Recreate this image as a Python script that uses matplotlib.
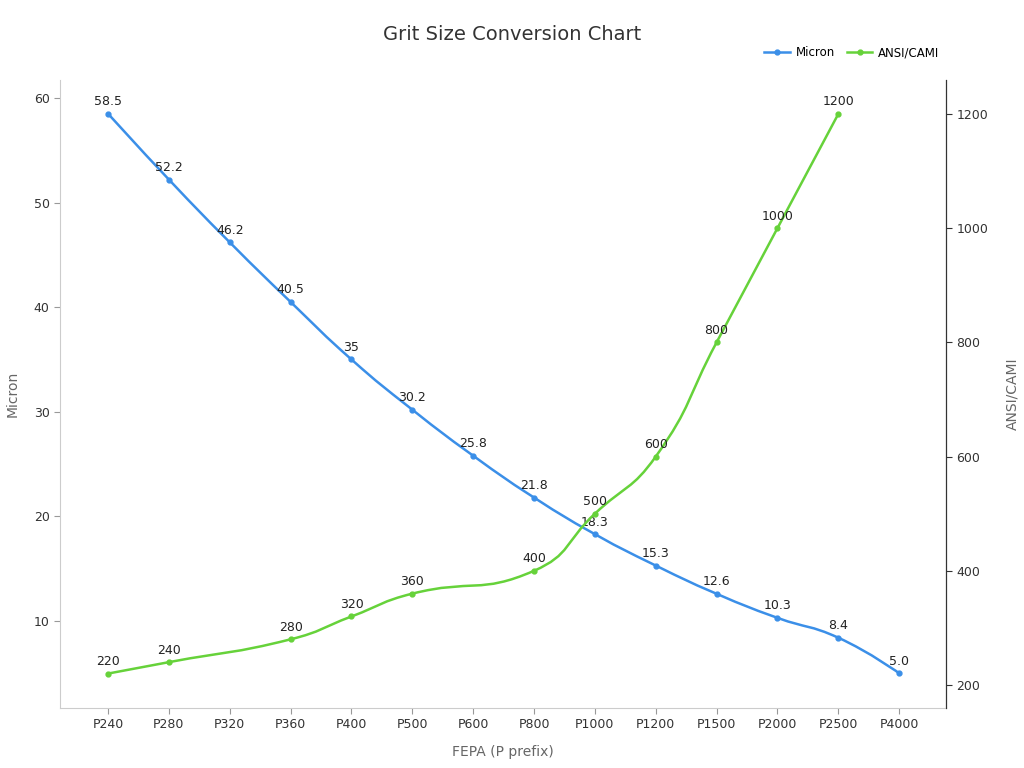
import matplotlib.pyplot as plt
import numpy as np
from matplotlib.path import Path
from matplotlib.patches import PathPatch

fepa = ["P240", "P280", "P320", "P360", "P400", "P500", "P600", "P800",
        "P1000", "P1200", "P1500", "P2000", "P2500", "P4000"]
micron = [58.5, 52.2, 46.2, 40.5, 35, 30.2, 25.8, 21.8, 18.3, 15.3, 12.6, 10.3, 8.4, 5.0]
ansi = [220, 240, None, 280, 320, 360, None, 400, 500, 600, 800, 1000, 1200, None]

blue = "#3b8fe8"
green = "#66d23a"


def smooth_path(ax, xs, ys, smooth=0.5):
    # bezier in pixel space, similar to echarts smooth lines
    pts = ax.transData.transform(np.column_stack([xs, ys]))
    n = len(pts)
    verts = [pts[0]]
    codes = [Path.MOVETO]
    cps = []
    for i in range(n):
        cur = pts[i]
        if i == 0 or i == n - 1:
            cps.append((cur, cur))
            continue
        prev, nxt = pts[i - 1], pts[i + 1]
        v = (nxt - prev) * smooth
        d0 = np.hypot(*(cur - prev))
        d1 = np.hypot(*(nxt - cur))
        s = d0 + d1
        cps.append((cur - v * d0 / s, cur + v * d1 / s))
    for i in range(n - 1):
        verts += [cps[i][1], cps[i + 1][0], pts[i + 1]]
        codes += [Path.CURVE4] * 3
    inv = ax.transData.inverted()
    return Path(inv.transform(np.array(verts)), codes)


fig = plt.figure(figsize=(10.24, 7.68), dpi=100)
ax1 = fig.add_axes([60 / 1024, 60 / 768, 886 / 1024, 628 / 768])
ax2 = ax1.twinx()

x = np.arange(len(fepa))
ax1.set_xlim(-0.79, 13.77)
ax1.set_ylim(1.68, 61.72)
ax2.set_ylim(159.7, 1259.5)

ax1.plot(x, micron, "o", color=blue, markersize=3.5, label="Micron")
ax1.add_patch(PathPatch(smooth_path(ax1, x, micron), fill=False,
                        edgecolor=blue, linewidth=1.8))
for xi, v in zip(x, micron):
    ax1.annotate(str(v), (xi, v), xytext=(0, 4), textcoords="offset points",
                 ha="center", va="bottom", fontsize=9, color="#222222")

ax_x = [i for i, v in enumerate(ansi) if v is not None]
ax_y = [v for v in ansi if v is not None]
ax2.plot(ax_x, ax_y, "o", color=green, markersize=3.5, label="ANSI/CAMI")
ax2.add_patch(PathPatch(smooth_path(ax2, ax_x, ax_y), fill=False,
                        edgecolor=green, linewidth=1.8))
for xi, v in zip(ax_x, ax_y):
    ax2.annotate(str(v), (xi, v), xytext=(0, 4), textcoords="offset points",
                 ha="center", va="bottom", fontsize=9, color="#222222")

ax1.set_xticks(x)
ax1.set_xticklabels(fepa)
ax1.set_yticks([10, 20, 30, 40, 50, 60])
ax2.set_yticks([200, 400, 600, 800, 1000, 1200])

for a in (ax1, ax2):
    a.spines["top"].set_visible(False)
ax1.spines["left"].set_color("#cccccc")
ax1.spines["bottom"].set_color("#cccccc")
ax2.spines["left"].set_visible(False)
ax2.spines["bottom"].set_visible(False)
ax2.spines["right"].set_color("#333333")
ax1.tick_params(axis="both", labelsize=9, colors="#333333", length=4)
ax1.tick_params(axis="y", color="#999999")
ax1.tick_params(axis="x", color="#999999")
ax2.tick_params(axis="y", labelsize=9, colors="#333333", length=4)

ax1.set_xlabel("FEPA (P prefix)", fontsize=10, color="#666666", labelpad=10)
ax1.set_ylabel("Micron", fontsize=10, color="#666666", labelpad=10)
ax2.set_ylabel("ANSI/CAMI", fontsize=10, color="#666666", labelpad=12)

fig.suptitle("Grit Size Conversion Chart", fontsize=14, color="#333333", y=0.968)

h1, l1 = ax1.get_legend_handles_labels()
h2, l2 = ax2.get_legend_handles_labels()
for h in h1 + h2:
    h.set_linestyle("-")
    h.set_linewidth(1.8)
fig.legend(h1 + h2, l1 + l2, loc="center right", bbox_to_anchor=(0.928, 0.931),
           ncol=2, frameon=False, fontsize=8.5, handlelength=2.2,
           columnspacing=1.0, handletextpad=0.5)
# legend handles share the marker-only artists, so restore them
for h in h1 + h2:
    h.set_linestyle("None")

fig.savefig("out.png", dpi=100)
